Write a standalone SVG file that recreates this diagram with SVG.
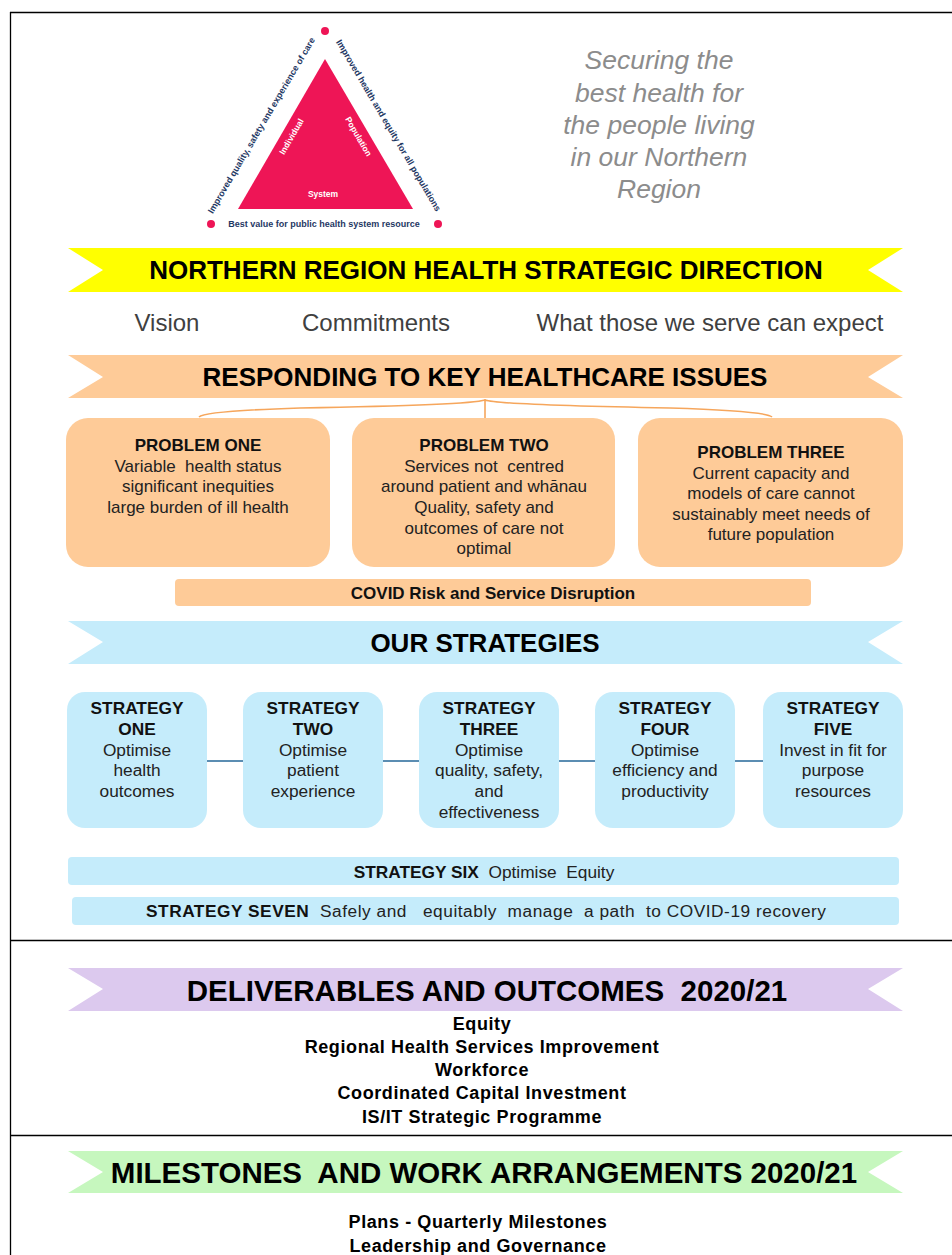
<svg xmlns="http://www.w3.org/2000/svg" width="952" height="1255" viewBox="0 0 952 1255">
<style>
text{font-family:"Liberation Sans",Arial,sans-serif;}
.bt{font-weight:bold;font-size:26px;fill:#000;text-anchor:middle;}
.bt2{font-weight:bold;font-size:29.5px;fill:#000;text-anchor:middle;}
.sub{font-size:24px;fill:#404040;text-anchor:middle;}
.pt{font-size:17px;fill:#222;text-anchor:middle;}
.ptb{font-size:17px;font-weight:bold;fill:#111;text-anchor:middle;}
.st{font-size:17.3px;fill:#222;text-anchor:middle;}
.stb{font-size:17.3px;font-weight:bold;fill:#111;text-anchor:middle;}
.li{font-size:18px;font-weight:bold;fill:#000;text-anchor:middle;letter-spacing:0.6px;}
.tri{font-size:9px;font-weight:bold;fill:#1F3864;text-anchor:middle;}
.trw{font-size:8.5px;font-weight:bold;fill:#fff;text-anchor:middle;}
.it{font-size:26.5px;font-style:italic;fill:#8C8C8C;text-anchor:middle;}
.peach{fill:#FECB98;}
.blue{fill:#C5ECFB;}
</style>
<rect width="952" height="1255" fill="#fff"/>
<g id="frame" stroke="#000" stroke-width="1.3" fill="none">
<line x1="10" y1="12.5" x2="952" y2="12.5"/>
<line x1="10.5" y1="12" x2="10.5" y2="1255"/>
<line x1="10" y1="940.5" x2="952" y2="940.5"/>
<line x1="10" y1="1135.5" x2="952" y2="1135.5"/>
</g>
<g id="triangle">
<circle cx="325" cy="31" r="4" fill="#EE1556"/>
<circle cx="211" cy="224" r="4" fill="#EE1556"/>
<circle cx="438" cy="224" r="4" fill="#EE1556"/>
<polygon points="325,59 238,209 413,209" fill="#EE1556"/>
<text class="tri" transform="translate(264,127) rotate(-59.5)">Improved quality, safety and experience of care</text>
<text class="tri" transform="translate(386,127) rotate(59.5)">Improved health and equity for all populations</text>
<text class="tri" x="324" y="227">Best value for public health system resource</text>
<text class="trw" transform="translate(294,138) rotate(-60)">Individual</text>
<text class="trw" transform="translate(356,138) rotate(60)">Population</text>
<text class="trw" x="323" y="197">System</text>
</g>
<g id="tagline">
<text class="it" x="659" y="69">Securing the</text>
<text class="it" x="659" y="102">best health for</text>
<text class="it" x="659" y="134">the people living</text>
<text class="it" x="659" y="166">in our Northern</text>
<text class="it" x="659" y="198">Region</text>
</g>
<g id="banner-direction">
<polygon points="68,248 903,248 868,270 903,292 68,292 103,270" fill="#FFFF00"/>
<text class="bt" x="486" y="279">NORTHERN REGION HEALTH STRATEGIC DIRECTION</text>
</g>
<g id="subheads">
<text class="sub" x="167" y="331">Vision</text>
<text class="sub" x="376" y="331">Commitments</text>
<text class="sub" x="710" y="331">What those we serve can expect</text>
</g>
<g id="banner-issues">
<polygon class="peach" points="68,355 903,355 868,377 903,398 68,398 103,377"/>
<text class="bt" x="485" y="386">RESPONDING TO KEY HEALTHCARE ISSUES</text>
</g>
<g id="connectors" fill="none">
<path d="M485,399 L485,419 M485,400 Q470,405 300,408 Q205,411 199,417 M485,400 Q500,405 670,408 Q766,411 772,417" stroke="#F6A65C" stroke-width="1.6"/>
<g stroke="#5B8DB2" stroke-width="2">
<line x1="207" y1="761" x2="243" y2="761"/>
<line x1="383" y1="761" x2="419" y2="761"/>
<line x1="559" y1="761" x2="595" y2="761"/>
<line x1="735" y1="761" x2="763" y2="761"/>
</g>
</g>
<g id="problem-one">
<rect class="peach" x="66" y="418" width="264" height="149" rx="22"/>
<text class="ptb" x="198" y="451">PROBLEM ONE</text>
<text class="pt" x="198" y="472" xml:space="preserve">Variable  health status</text>
<text class="pt" x="198" y="492">significant inequities</text>
<text class="pt" x="198" y="513">large burden of ill health</text>
</g>
<g id="problem-two">
<rect class="peach" x="352" y="418" width="263" height="149" rx="22"/>
<text class="ptb" x="484" y="451">PROBLEM TWO</text>
<text class="pt" x="484" y="472" xml:space="preserve">Services not  centred</text>
<text class="pt" x="484" y="492">around patient and whānau</text>
<text class="pt" x="484" y="513">Quality, safety and</text>
<text class="pt" x="484" y="534">outcomes of care not</text>
<text class="pt" x="484" y="554">optimal</text>
</g>
<g id="problem-three">
<rect class="peach" x="638" y="418" width="265" height="149" rx="22"/>
<text class="ptb" x="771" y="458">PROBLEM THREE</text>
<text class="pt" x="771" y="479">Current capacity and</text>
<text class="pt" x="771" y="499">models of care cannot</text>
<text class="pt" x="771" y="520">sustainably meet needs of</text>
<text class="pt" x="771" y="540">future population</text>
</g>
<g id="covid">
<rect class="peach" x="175" y="579" width="636" height="27" rx="4"/>
<text class="ptb" x="493" y="599">COVID Risk and Service Disruption</text>
</g>
<g id="banner-strategies">
<polygon class="blue" points="68,621 903,621 868,642 903,664 68,664 103,642"/>
<text class="bt" x="485" y="652">OUR STRATEGIES</text>
</g>
<g id="strategy-one">
<rect class="blue" x="67" y="692" width="140" height="136" rx="18"/>
<text class="stb" x="137" y="714">STRATEGY</text>
<text class="stb" x="137" y="735">ONE</text>
<text class="st" x="137" y="756">Optimise</text>
<text class="st" x="137" y="776">health</text>
<text class="st" x="137" y="797">outcomes</text>
</g>
<g id="strategy-two">
<rect class="blue" x="243" y="692" width="140" height="136" rx="18"/>
<text class="stb" x="313" y="714">STRATEGY</text>
<text class="stb" x="313" y="735">TWO</text>
<text class="st" x="313" y="756">Optimise</text>
<text class="st" x="313" y="776">patient</text>
<text class="st" x="313" y="797">experience</text>
</g>
<g id="strategy-three">
<rect class="blue" x="419" y="692" width="140" height="136" rx="18"/>
<text class="stb" x="489" y="714">STRATEGY</text>
<text class="stb" x="489" y="735">THREE</text>
<text class="st" x="489" y="756">Optimise</text>
<text class="st" x="489" y="776">quality, safety,</text>
<text class="st" x="489" y="797">and</text>
<text class="st" x="489" y="818">effectiveness</text>
</g>
<g id="strategy-four">
<rect class="blue" x="595" y="692" width="140" height="136" rx="18"/>
<text class="stb" x="665" y="714">STRATEGY</text>
<text class="stb" x="665" y="735">FOUR</text>
<text class="st" x="665" y="756">Optimise</text>
<text class="st" x="665" y="776">efficiency and</text>
<text class="st" x="665" y="797">productivity</text>
</g>
<g id="strategy-five">
<rect class="blue" x="763" y="692" width="140" height="136" rx="18"/>
<text class="stb" x="833" y="714">STRATEGY</text>
<text class="stb" x="833" y="735">FIVE</text>
<text class="st" x="833" y="756">Invest in fit for</text>
<text class="st" x="833" y="776">purpose</text>
<text class="st" x="833" y="797">resources</text>
</g>
<g id="strategy-six">
<rect class="blue" x="68" y="857" width="831" height="28" rx="4"/>
<text class="st" x="484" y="878" xml:space="preserve"><tspan font-weight="bold" fill="#111">STRATEGY SIX</tspan>  Optimise  Equity</text>
</g>
<g id="strategy-seven">
<rect class="blue" x="72" y="897" width="827" height="28" rx="4"/>
<text class="st" x="486" y="917" textLength="680" lengthAdjust="spacing" xml:space="preserve"><tspan font-weight="bold" fill="#111">STRATEGY SEVEN</tspan>  Safely and   equitably  manage  a path  to COVID-19 recovery</text>
</g>
<g id="banner-deliverables">
<polygon points="68,968 903,968 868,989 903,1011 68,1011 103,989" fill="#DCC9EE"/>
<text class="bt2" x="487" y="1001" xml:space="preserve">DELIVERABLES AND OUTCOMES  2020/21</text>
</g>
<g id="deliverables">
<text class="li" x="482" y="1030">Equity</text>
<text class="li" x="482" y="1053">Regional Health Services Improvement</text>
<text class="li" x="482" y="1076">Workforce</text>
<text class="li" x="482" y="1099">Coordinated Capital Investment</text>
<text class="li" x="482" y="1123">IS/IT Strategic Programme</text>
</g>
<g id="banner-milestones">
<polygon points="68,1151 903,1151 868,1172 903,1193 68,1193 103,1172" fill="#C6F7BE"/>
<text class="bt2" x="484" y="1183" xml:space="preserve">MILESTONES  AND WORK ARRANGEMENTS 2020/21</text>
</g>
<g id="milestones">
<text class="li" x="478" y="1228">Plans - Quarterly Milestones</text>
<text class="li" x="478" y="1252">Leadership and Governance</text>
</g>
</svg>
